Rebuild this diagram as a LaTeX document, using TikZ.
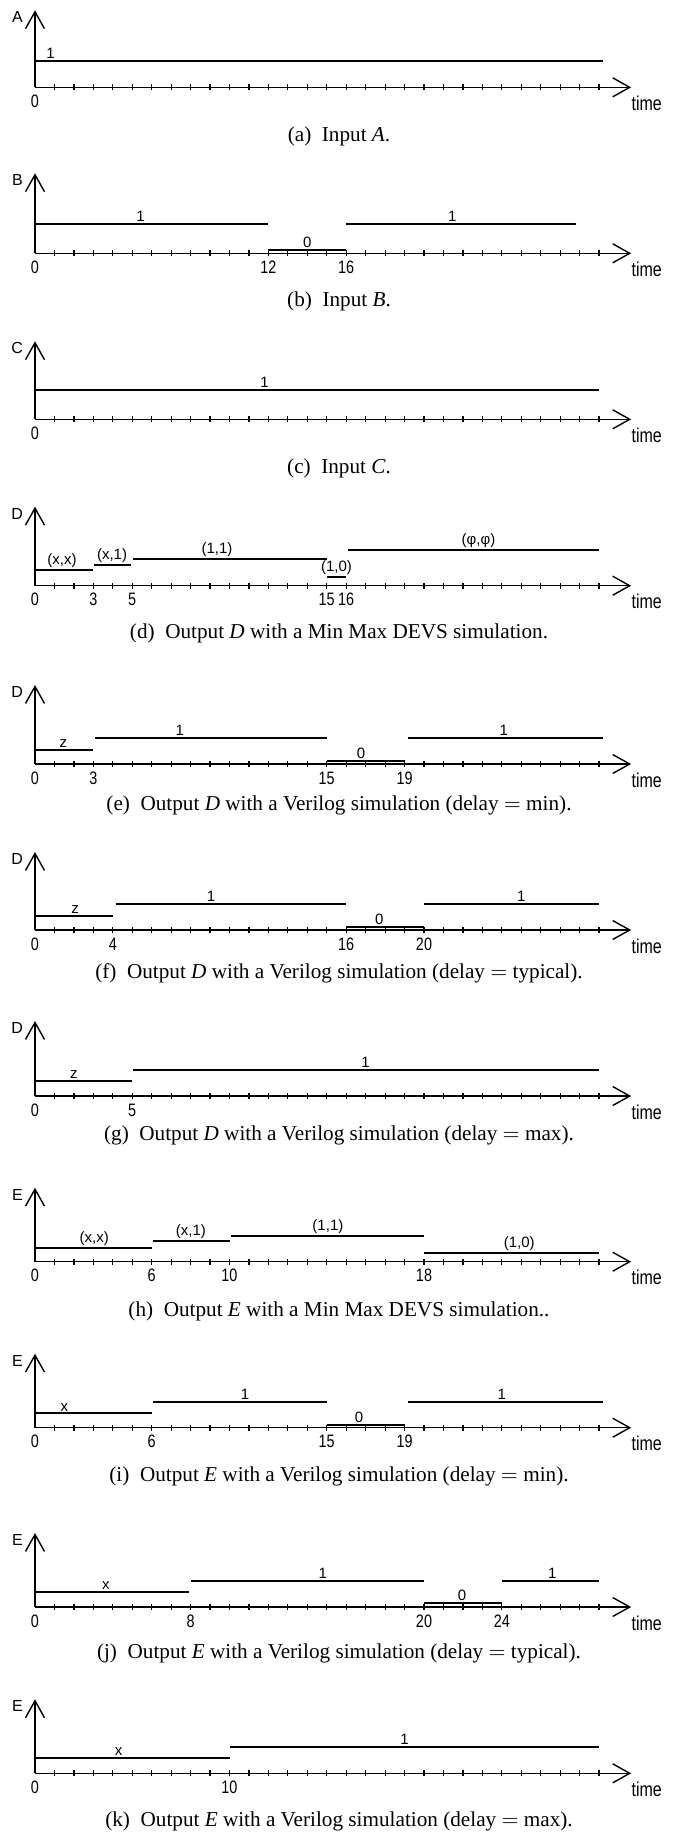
\documentclass[tikz,border=0pt]{standalone}
\usepackage{fontspec}
\setmainfont{Liberation Serif}
\setsansfont{Liberation Sans}
\newfontfamily\narrowsf{Liberation Sans}[FakeStretch=0.8]
\usetikzlibrary{arrows.meta}

\tikzset{
  axisline/.style={line width=0.7pt, -{Straight Barb[length=8.5pt,width=9.5pt]}},
  tickmark/.style={line width=0.6pt},
  level/.style={line width=1pt},
  val/.style={font=\fontsize{7.5}{8}\selectfont\sffamily, inner sep=1pt, above},
  sname/.style={font=\fontsize{8}{9}\selectfont\sffamily, inner sep=1pt, left},
  tnum/.style={font=\fontsize{9}{10}\selectfont\narrowsf, inner sep=0pt},
  tlabel/.style={font=\fontsize{10}{11}\selectfont\narrowsf, inner sep=0pt},
  caption/.style={font=\fontsize{10.6}{12}\selectfont, inner sep=0pt},
}

% axes of one chronogram: #1 prefix, #2 signal, #3 height of value axis
\newcommand{\timeaxes}[3]{%
  \draw[axisline] (0,0) -- (0,#3);
  \node[sname] (#1-name) at (-0.5,#3-7) {#2};
  \draw[axisline] (0,0) -- (30.65,0);
  \foreach \tk in {1,...,29}
    \draw[tickmark] (\tk,-3) -- (\tk,3);
  \node[tlabel] (#1-time) at (31.45,-16) {time};
  \node[tnum] (#1-zero) at (0,-14) {0};
}

% one value: #1 name, #2 from, #3 to, #4 level, #5 value, #6 where it is written
\newcommand{\seg}[6]{%
  \draw[level] (#2,#4) -- (#3,#4);
  \node[val] (#1) at (#6,#4) {#5};
}

\begin{document}
\begin{tikzpicture}[x=0.5pt, y=0.5pt]
  \useasboundingbox (0,0) rectangle (678,-1833);

  % inputs
  \begin{scope}[shift={(35,-87.3)}, x=9.725pt]
    \timeaxes{a}{A}{77}
    \seg{a-v1}{0}{29.2}{26}{1}{0.8}
    \node[caption] (a-cap) at (15.63,-49.4) {(a)\enspace Input \textit{A}.};
  \end{scope}

  \begin{scope}[shift={(35,-253.3)}, x=9.725pt]
    \timeaxes{b}{B}{80}
    \seg{b-v1}{0}{12}{29}{1}{5.43}
    \seg{b-v2}{12}{16}{3}{0}{14}
    \seg{b-v3}{16}{27.8}{29}{1}{21.45}
    \foreach \tk in {12,16} \node[tnum] (b-t\tk) at (\tk,-14) {\tk};
    \node[caption] (b-cap) at (15.63,-48.4) {(b)\enspace Input \textit{B}.};
  \end{scope}

  \begin{scope}[shift={(35,-419.3)}, x=9.725pt]
    \timeaxes{c}{C}{78}
    \seg{c-v1}{0}{29}{29.3}{1}{11.8}
    \node[caption] (c-cap) at (15.63,-49) {(c)\enspace Input \textit{C}.};
  \end{scope}

  % output D
  \begin{scope}[shift={(35,-585.7)}, x=9.725pt]
    \timeaxes{d}{D}{79}
    \seg{d-v1}{0}{3}{15.4}{(x,x)}{1.39}
    \seg{d-v2}{3.05}{4.95}{20.7}{(x,1)}{3.96}
    \seg{d-v3}{5.05}{15}{26.7}{(1,1)}{9.36}
    \seg{d-v4}{15}{16}{9}{(1,0)}{15.5}
    \seg{d-v5}{16.1}{29}{35.7}{(φ,φ)}{22.8}
    \foreach \tk in {3,5,15,16} \node[tnum] (d-t\tk) at (\tk,-14) {\tk};
    \node[caption] (d-cap) at (15.63,-47.6) {(d)\enspace Output \textit{D} with a Min Max DEVS simulation.};
  \end{scope}

  \begin{scope}[shift={(35,-764)}, x=9.725pt]
    \timeaxes{e}{D}{79}
    \seg{e-v1}{0}{3}{14.3}{z}{1.46}
    \seg{e-v2}{3.1}{15}{26}{1}{7.45}
    \seg{e-v3}{15}{19}{3}{0}{16.76}
    \seg{e-v4}{19.2}{29.2}{26}{1}{24.1}
    \foreach \tk in {3,15,19} \node[tnum] (e-t\tk) at (\tk,-14) {\tk};
    \node[caption] (e-cap) at (15.63,-41) {(e)\enspace Output \textit{D} with a Verilog simulation (delay $=$ min).};
  \end{scope}

  \begin{scope}[shift={(35,-930)}, x=9.725pt]
    \timeaxes{f}{D}{78}
    \seg{f-v1}{0}{4}{14.3}{z}{2.06}
    \seg{f-v2}{4.15}{16}{26}{1}{9.05}
    \seg{f-v3}{16}{20}{3}{0}{17.7}
    \seg{f-v4}{20}{29}{26}{1}{25}
    \foreach \tk in {4,16,20} \node[tnum] (f-t\tk) at (\tk,-14) {\tk};
    \node[caption] (f-cap) at (15.63,-43.3) {(f)\enspace Output \textit{D} with a Verilog simulation (delay $=$ typical).};
  \end{scope}

  \begin{scope}[shift={(35,-1096)}, x=9.725pt]
    \timeaxes{g}{D}{75}
    \seg{g-v1}{0}{5}{14.7}{z}{2}
    \seg{g-v2}{5.05}{29}{26}{1}{17}
    \node[tnum] (g-t5) at (5,-14) {5};
    \node[caption] (g-cap) at (15.63,-39) {(g)\enspace Output \textit{D} with a Verilog simulation (delay $=$ max).};
  \end{scope}

  % output E
  \begin{scope}[shift={(35,-1261.7)}, x=9.725pt]
    \timeaxes{h}{E}{74}
    \seg{h-v1}{0}{6}{14}{(x,x)}{3.05}
    \seg{h-v2}{6.05}{10}{20.3}{(x,1)}{8.02}
    \seg{h-v3}{10.1}{20}{26}{(1,1)}{15.06}
    \seg{h-v4}{20}{29}{8.3}{(1,0)}{24.9}
    \foreach \tk in {6,10} \node[tnum] (h-t\tk) at (\tk,-14) {\tk};
    \node[tnum] (h-t18) at (20,-14) {18};
    \node[caption] (h-cap) at (15.63,-50) {(h)\enspace Output \textit{E} with a Min Max DEVS simulation..};
  \end{scope}

  \begin{scope}[shift={(35,-1427.7)}, x=9.725pt]
    \timeaxes{i}{E}{74}
    \seg{i-v1}{0}{6}{14.3}{x}{1.51}
    \seg{i-v2}{6.05}{15}{26}{1}{10.8}
    \seg{i-v3}{15}{19}{3}{0}{16.66}
    \seg{i-v4}{19.2}{29.2}{26}{1}{24}
    \foreach \tk in {6,15,19} \node[tnum] (i-t\tk) at (\tk,-14) {\tk};
    \node[caption] (i-cap) at (15.63,-49) {(i)\enspace Output \textit{E} with a Verilog simulation (delay $=$ min).};
  \end{scope}

  \begin{scope}[shift={(35,-1607)}, x=9.725pt]
    \timeaxes{j}{E}{74}
    \seg{j-v1}{0}{7.9}{14.7}{x}{3.65}
    \seg{j-v2}{8}{20}{26.3}{1}{14.8}
    \seg{j-v3}{20}{24}{3.7}{0}{21.95}
    \seg{j-v4}{24}{29}{26.3}{1}{26.6}
    \foreach \tk in {8,20,24} \node[tnum] (j-t\tk) at (\tk,-14) {\tk};
    \node[caption] (j-cap) at (15.63,-46.3) {(j)\enspace Output \textit{E} with a Verilog simulation (delay $=$ typical).};
  \end{scope}

  \begin{scope}[shift={(35,-1773.3)}, x=9.725pt]
    \timeaxes{k}{E}{74}
    \seg{k-v1}{0}{10}{15}{x}{4.3}
    \seg{k-v2}{10}{29}{26.6}{1}{19}
    \node[tnum] (k-t10) at (10,-14) {10};
    \node[caption] (k-cap) at (15.63,-48.4) {(k)\enspace Output \textit{E} with a Verilog simulation (delay $=$ max).};
  \end{scope}
\end{tikzpicture}
\end{document}
